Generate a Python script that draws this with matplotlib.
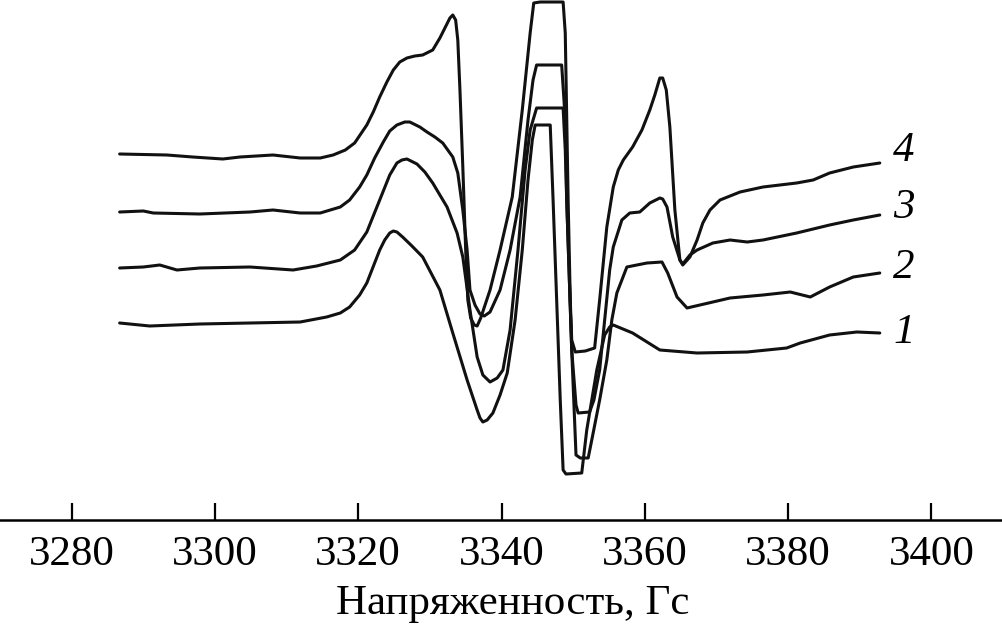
import matplotlib
matplotlib.use("Agg")
import matplotlib.pyplot as plt

plt.rcParams['font.family'] = ['Liberation Serif', 'DejaVu Serif']

# ==========================================
# DATA (field in Gauss, intensity in arbitrary units)
# ==========================================

field_4 = [3286.7, 3293.3, 3296.9, 3301.1, 3303.5, 3308.1, 3311.9, 3314.7, 3316.5, 3318.2,
           3319.5, 3321.2, 3322.1, 3323.0, 3324.0, 3324.9, 3325.8, 3326.8, 3327.9, 3329.0,
           3330.4, 3331.4, 3332.1, 3332.8, 3333.2, 3333.6, 3333.9, 3334.2, 3334.6, 3335.0,
           3335.3, 3335.7, 3336.2, 3336.6, 3337.1, 3338.4, 3339.8, 3341.5, 3342.9, 3344.0,
           3344.5, 3345.4, 3348.6, 3348.9, 3349.3, 3349.6, 3349.8, 3350.3, 3351.7, 3353.0,
           3353.7, 3354.7, 3355.6, 3356.3, 3357.0, 3358.3, 3359.6, 3360.7, 3361.4, 3362.1,
           3362.5, 3363.0, 3363.5, 3364.2, 3364.9, 3365.3, 3366.3, 3367.3, 3368.1, 3369.1,
           3370.5, 3373.3, 3376.5, 3381.2, 3383.5, 3385.8, 3389.1, 3392.8]
signal_4 = [366, 365, 363, 361, 363, 365, 362, 362, 365, 370,
            377, 395, 408, 423, 438, 450, 458, 462, 464, 465,
            470, 482, 492, 502, 505, 500, 480, 430, 353, 270,
            220, 202, 195, 194, 202, 230, 270, 323, 410, 487,
            517, 518, 518, 487, 320, 220, 180, 168, 169, 172,
            220, 293, 333, 350, 360, 373, 390, 410, 425, 442,
            442, 430, 393, 310, 260, 255, 263, 280, 297, 310,
            320, 328, 333, 337, 340, 347, 353, 357]

field_3 = [3286.7, 3290.0, 3291.4, 3297.9, 3304.9, 3308.1, 3311.9, 3314.7, 3317.5, 3318.8,
           3320.2, 3321.2, 3322.3, 3323.5, 3324.4, 3325.4, 3326.5, 3327.2, 3328.6, 3329.6,
           3330.7, 3331.8, 3332.5, 3333.2, 3333.9, 3334.6, 3335.2, 3335.6, 3336.3, 3337.0,
           3337.6, 3338.4, 3339.8, 3341.2, 3342.6, 3343.7, 3344.4, 3344.9, 3346.1, 3348.4,
           3348.9, 3349.1, 3349.8, 3350.4, 3350.7, 3352.3, 3352.9, 3353.7, 3354.4, 3355.1,
           3355.6, 3356.8, 3357.9, 3359.3, 3360.7, 3362.1, 3362.5, 3363.1, 3363.9, 3364.9,
           3365.3, 3366.3, 3367.3, 3369.5, 3371.9, 3374.3, 3376.5, 3381.2, 3385.8, 3389.1,
           3392.8]
signal_3 = [308, 309, 307, 306, 308, 310, 307, 307, 313, 320,
            333, 345, 362, 378, 389, 395, 398, 398, 393, 388,
            383, 377, 370, 363, 347, 310, 270, 230, 215, 206,
            204, 208, 230, 270, 323, 400, 440, 455, 455, 455,
            400, 320, 170, 115, 107, 108, 120, 150, 200, 250,
            273, 300, 307, 308, 317, 322, 321, 313, 283, 260,
            256, 265, 270, 277, 280, 278, 280, 287, 295, 300,
            305]

field_2 = [3286.7, 3290.0, 3292.3, 3294.7, 3297.9, 3304.9, 3310.9, 3314.2, 3317.5,
           3319.5, 3321.2, 3323.0, 3324.4, 3325.4, 3326.1, 3326.8, 3328.2, 3329.3, 3330.4,
           3332.4, 3333.8, 3334.6, 3335.6, 3336.6, 3337.4, 3338.4, 3339.4, 3340.2, 3341.2,
           3342.3, 3343.3, 3344.0, 3344.9, 3348.6, 3348.9, 3349.1, 3349.8, 3350.4, 3351.0,
           3352.1, 3352.6, 3353.7, 3354.7, 3355.4, 3356.1, 3357.5, 3360.3, 3362.4, 3363.2,
           3364.5, 3365.9, 3367.7, 3371.9, 3376.5, 3380.3, 3383.1, 3385.8, 3389.1, 3392.8]
signal_2 = [252, 253, 255, 250, 252, 253, 250, 254, 260,
            270, 288, 320, 345, 357, 360, 361, 356, 348, 337,
            313, 287, 263, 210, 163, 145, 138, 142, 150, 190,
            270, 350, 390, 412, 412, 370, 320, 170, 65, 62,
            62, 80, 120, 160, 200, 227, 253, 257, 258, 247,
            223, 212, 215, 222, 225, 228, 223, 233, 243, 247]

field_1 = [3286.7, 3290.9, 3297.9, 3304.9, 3311.9, 3315.6, 3317.5, 3318.8, 3320.2, 3321.2,
           3323.0, 3323.7, 3324.4, 3324.9, 3325.4, 3326.2, 3327.5, 3329.0, 3331.4, 3333.2,
           3335.2, 3336.6, 3337.0, 3337.4, 3338.0, 3338.8, 3339.8, 3340.8, 3341.9, 3342.9,
           3343.7, 3344.3, 3344.7, 3346.8, 3347.2, 3347.7, 3348.2, 3348.6, 3349.0, 3351.2,
           3351.9, 3352.6, 3353.3, 3354.4, 3355.1, 3355.6, 3358.3, 3362.1, 3367.3, 3374.3,
           3379.8, 3381.7, 3385.8, 3389.6, 3392.8]
signal_1 = [197, 194, 196, 197, 198, 203, 207, 213, 225, 237,
            270, 280, 287, 289, 288, 283, 274, 263, 230, 187,
            140, 110, 102, 98, 100, 107, 125, 147, 200, 270,
            340, 380, 395, 395, 320, 220, 120, 50, 46, 47,
            90, 120, 150, 185, 193, 195, 187, 170, 167, 168,
            172, 177, 185, 188, 187]

curve_labels = ['1', '2', '3', '4']
label_field = 3396.2
label_signal = [187, 252, 312, 369]

x_ticks = [3280, 3300, 3320, 3340, 3360, 3380, 3400]

# ==========================================
# PLOT
# ==========================================

fig = plt.figure(figsize=(10.03, 6.32), dpi=100)
ax = fig.add_axes([0, 112 / 632, 1, 520 / 632])

for fx, sy in [(field_1, signal_1), (field_2, signal_2),
               (field_3, signal_3), (field_4, signal_4)]:
    ax.plot(fx, sy, color='#111111', lw=2.2, solid_joinstyle='round',
            solid_capstyle='round', clip_on=False)

for lab, ly in zip(curve_labels, label_signal):
    ax.text(label_field, ly, lab, fontsize=31, style='italic',
            ha='center', va='center')

ax.set_xlim(3270, 3410)
ax.set_ylim(0, 520)

for s in ['top', 'left', 'right']:
    ax.spines[s].set_visible(False)
ax.spines['bottom'].set_linewidth(1.8)

ax.set_yticks([])
ax.set_xticks(x_ticks)
ax.tick_params(axis='x', direction='in', length=12, width=1.6,
               labelsize=31, pad=11)

ax.set_xlabel("Напряженность, Гс", fontsize=31, va='center')
ax.xaxis.set_label_coords(513 / 1003, -84 / 520)

fig.savefig("out.png", dpi=100)
